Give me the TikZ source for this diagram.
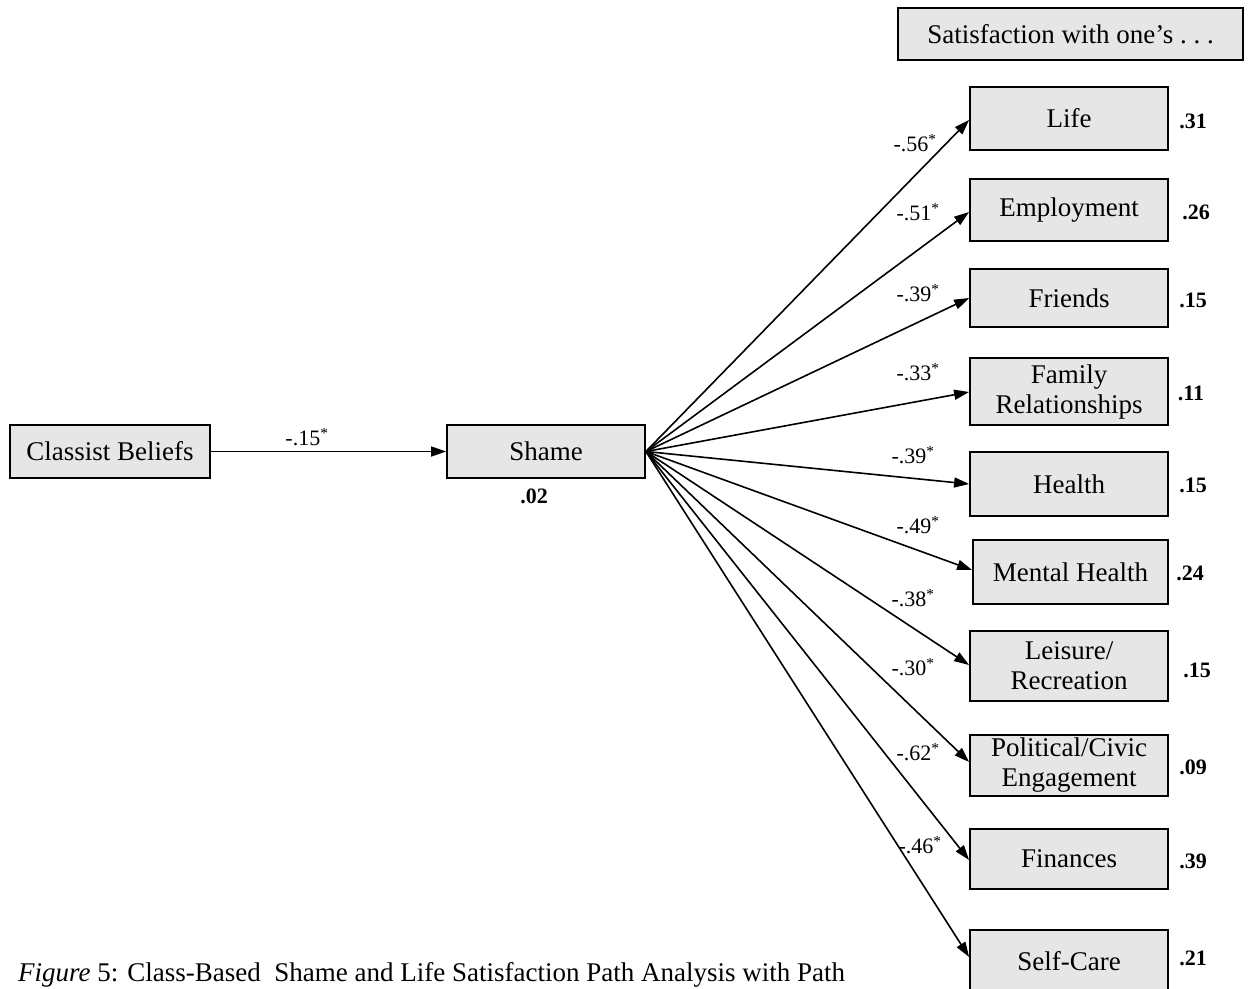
\documentclass[tikz,border=0pt]{standalone}
\usepackage{fontspec}
\setmainfont{Liberation Serif}
\usetikzlibrary{arrows.meta}
\definecolor{boxgray}{RGB}{230,230,230}
\begin{document}
\begin{tikzpicture}[x=1pt,y=-1pt,
  var/.style={draw=black, line width=1.8pt, fill=boxgray, rectangle, inner sep=0pt,
    align=center, font=\fontsize{27}{30}\selectfont},
  coef/.style={font=\fontsize{22}{24}\selectfont, inner sep=0pt},
  rsq/.style={font=\fontsize{22}{24}\selectfont\bfseries, inner sep=0pt},
  path/.style={line width=1.6pt, -{Triangle[length=15pt,width=10pt]}}]
\useasboundingbox (0,0) rectangle (1249,988);
\fill[white] (0,0) rectangle (1249,988);

% header
\node[var, minimum width=345pt, minimum height=52pt] (sat) at (1070.5,34) {Satisfaction with one’s .\ .\ .};

% left nodes
\node[var, minimum width=200pt, minimum height=53pt] (cb) at (110,451.5) {Classist Beliefs};
\node[var, minimum width=198pt, minimum height=53pt] (sh) at (546,451.5) {Shame};
\node[rsq] (shr) at (534,496) {.02};

% outcome nodes
\node[var, minimum width=198pt, minimum height=63pt] (life) at (1069,118.5) {Life};
\node[var, minimum width=198pt, minimum height=62pt] (emp) at (1069,210) {Employment};
\node[var, minimum width=198pt, minimum height=58pt] (fri) at (1069,298) {Friends};
\node[var, minimum width=198pt, minimum height=67pt] (fam) at (1069,391.5) {Family\\Relationships};
\node[var, minimum width=198pt, minimum height=64pt] (hea) at (1069,484) {Health};
\node[var, minimum width=195pt, minimum height=64pt] (men) at (1070.5,572) {Mental Health};
\node[var, minimum width=198pt, minimum height=70pt] (lei) at (1069,666) {Leisure/\\Recreation};
\node[var, minimum width=198pt, minimum height=61pt] (pol) at (1069,765.5) {Political/Civic\\Engagement};
\node[var, minimum width=198pt, minimum height=60pt] (fin) at (1069,859) {Finances};
\node[var, minimum width=198pt, minimum height=62pt] (sel) at (1069,961) {Self-Care};

% R-squared
\node[rsq] (lifer) at (1193,121) {.31};
\node[rsq] (empr) at (1196,212) {.26};
\node[rsq] (frir) at (1193,300) {.15};
\node[rsq] (famr) at (1191,393) {.11};
\node[rsq] (hear) at (1193,485) {.15};
\node[rsq] (menr) at (1190,573) {.24};
\node[rsq] (leir) at (1197,670) {.15};
\node[rsq] (polr) at (1193,767) {.09};
\node[rsq] (finr) at (1193,861) {.39};
\node[rsq] (selr) at (1193,958) {.21};

% paths
\draw[path] (cb.east) -- (sh.west);
\node[coef] (c0) at (307,437) {-.15\textsuperscript{*}};

\coordinate (src) at (sh.east);
\draw[path] (src) -- (life.west |- 0,120);
\draw[path] (src) -- (emp.west |- 0,212);
\draw[path] (src) -- (fri.west |- 0,298);
\draw[path] (src) -- (fam.west |- 0,392);
\draw[path] (src) -- (hea.west |- 0,484);
\draw[path] (src) -- (men.west |- 0,570);
\draw[path] (src) -- (lei.west |- 0,665);
\draw[path] (src) -- (pol.west |- 0,762);
\draw[path] (src) -- (fin.west |- 0,860);
\draw[path] (src) -- (sel.west |- 0,957);

\node[coef] (c1) at (915,143) {-.56\textsuperscript{*}};
\node[coef] (c2) at (918,212) {-.51\textsuperscript{*}};
\node[coef] (c3) at (918,293) {-.39\textsuperscript{*}};
\node[coef] (c4) at (918,372) {-.33\textsuperscript{*}};
\node[coef] (c5) at (913,455) {-.39\textsuperscript{*}};
\node[coef] (c6) at (918,525) {-.49\textsuperscript{*}};
\node[coef] (c7) at (913,598) {-.38\textsuperscript{*}};
\node[coef] (c8) at (913,667) {-.30\textsuperscript{*}};
\node[coef] (c9) at (918,752) {-.62\textsuperscript{*}};
\node[coef] (c10) at (920,845) {-.46\textsuperscript{*}};

% caption
\node[anchor=base west, inner sep=0pt, font=\fontsize{27}{29}\selectfont] (cap) at (18,981)
  {\textit{Figure} 5: Class-Based\ \ Shame and Life Satisfaction Path Analysis with Path};
\end{tikzpicture}
\end{document}
